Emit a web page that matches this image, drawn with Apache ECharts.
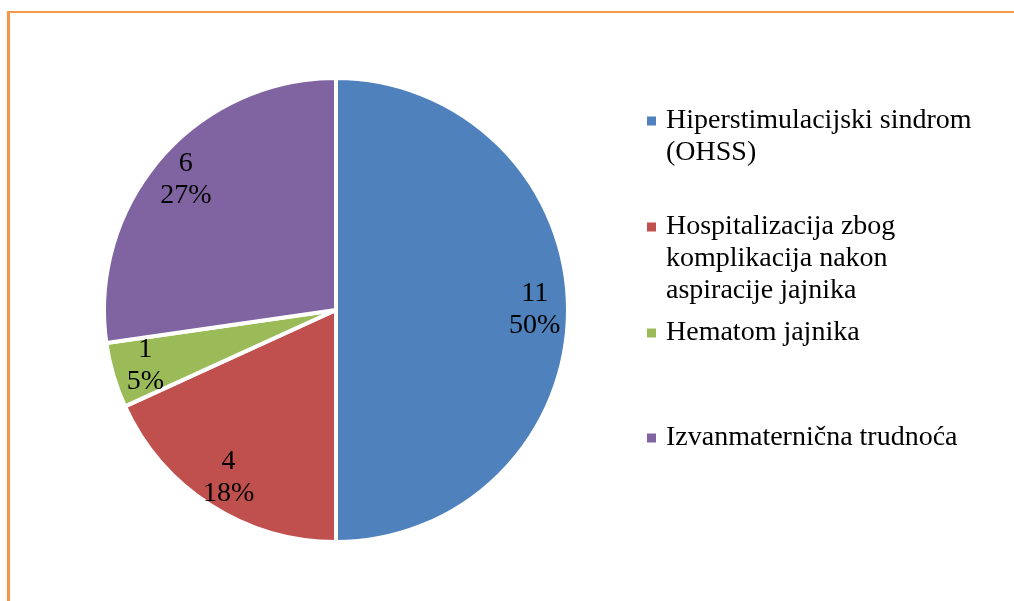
<!DOCTYPE html>
<html>
<head>
<meta charset="utf-8">
<script src="https://cdn.jsdelivr.net/npm/echarts@6/dist/echarts.min.js"></script>
<style>
  html, body { margin: 0; padding: 0; background: #fff; }
  #chart { width: 1014px; height: 601px; }
</style>
</head>
<body>
<div id="chart"></div>
<script>
// categories and values
const categories = [
  'Hiperstimulacijski sindrom\n(OHSS)',
  'Hospitalizacija zbog\nkomplikacija nakon\naspiracije jajnika',
  'Hematom jajnika',
  'Izvanmaternična trudnoća'
]
const values = [11, 4, 1, 6]

const colors = ['#4F81BD', '#C0504D', '#9BBB59', '#8064A2']
const font = '"Liberation Serif", "Times New Roman", serif'
const fontSize = 28

// pie geometry
const CX = 336
const CY = 310
const R = 232
// push inside labels outward (Excel puts them near the rim)
const K = 1.67

const legendTops = [105, 211, 317, 422]

// one legend per item so the first lines sit evenly spaced
const legends = categories.map((name, i) => ({
  data: [name],
  left: 642,
  top: legendTops[i],
  orient: 'vertical',
  padding: 0,
  icon: 'none',
  itemWidth: 0,
  itemHeight: 32,
  formatter(n) {
    const lines = n.split('\n')
    return lines.map((l, j) => (j === 0 ? '{m|}{g|}' : '{s|}') + '{t|' + l + '}').join('\n')
  },
  textStyle: {
    fontFamily: font,
    fontSize: fontSize,
    lineHeight: 32,
    color: '#000',
    rich: {
      m: { width: 9, height: 9, backgroundColor: colors[i] },
      g: { width: 10 },
      s: { width: 19 },
      t: { fontFamily: font, fontSize: fontSize, lineHeight: 32, color: '#000' }
    }
  }
}))

const chart = echarts.init(document.getElementById('chart'))
chart.setOption({
  backgroundColor: '#fff',
  animation: false,
  color: colors,
  legend: legends,
  graphic: [
    // orange frame (only top and left edges visible)
    { type: 'line', shape: { x1: 8.5, y1: 11, x2: 8.5, y2: 601 }, style: { stroke: '#F79646', lineWidth: 3 } },
    { type: 'line', shape: { x1: 7, y1: 12, x2: 1014, y2: 12 }, style: { stroke: '#F79646', lineWidth: 2 } }
  ],
  series: [{
    type: 'pie',
    center: [CX, CY],
    radius: R,
    startAngle: 90,
    clockwise: true,
    percentPrecision: 0,
    itemStyle: {
      borderColor: '#fff',
      borderWidth: 4
    },
    label: {
      show: true,
      position: 'inside',
      formatter: '{c}\n{d}%',
      fontFamily: font,
      fontSize: fontSize,
      lineHeight: 32,
      color: '#000'
    },
    labelLayout(params) {
      const r = params.labelRect
      const lx = r.x + r.width / 2
      const ly = r.y + r.height / 2
      return { dx: (lx - CX) * (K - 1), dy: (ly - CY) * (K - 1) }
    },
    emphasis: { disabled: true },
    data: categories.map((name, i) => ({ name: name, value: values[i] }))
  }]
})
</script>
</body>
</html>
